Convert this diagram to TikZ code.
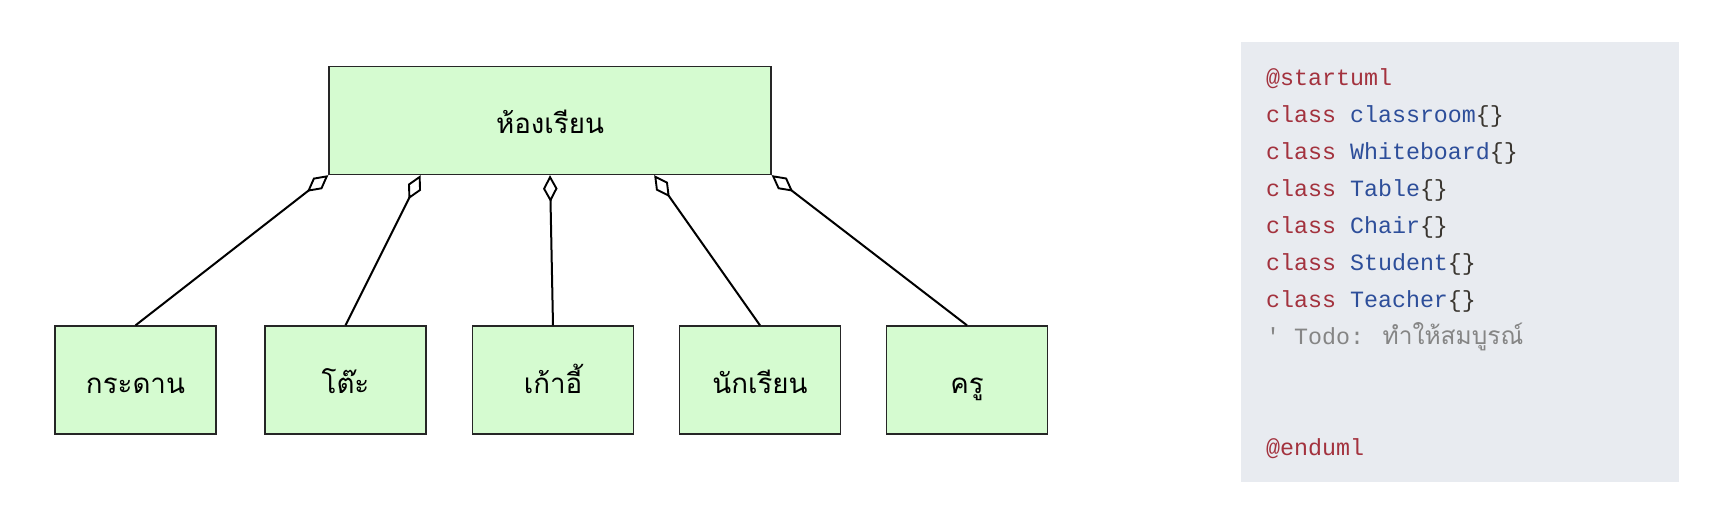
\documentclass[tikz,border=0pt]{standalone}
\usepackage{fontspec}
\setmainfont{Liberation Sans}
\newfontfamily\thai[Script=Thai]{Loma}
\newfontfamily\codefont{Liberation Mono}
\usetikzlibrary{arrows.meta,calc}
\definecolor{boxfill}{HTML}{D5FBD0}
\definecolor{panel}{HTML}{E8EBF0}
\definecolor{kw}{HTML}{A3323E}
\definecolor{cls}{HTML}{2D4E9A}
\definecolor{brc}{HTML}{3A3630}
\definecolor{cmt}{HTML}{858585}
\tikzset{
  classbox/.style={draw=black!85, line width=1.3pt, fill=boxfill, inner sep=0pt,
    text height=26pt, text depth=0pt, font=\thai\fontsize{27.7}{32}\selectfont},
  agg/.style={line width=2pt, -{Diamond[open, length=27pt, width=14.5pt, line width=1.9pt]}},
  codeline/.style={anchor=base west, inner sep=0pt, font=\codefont\fontsize{23.3}{28}\selectfont},
}
\begin{document}
\begin{tikzpicture}[x=1pt, y=-1pt]
\useasboundingbox (0,0) rectangle (1714,514);
\fill[white] (0,0) rectangle (1714,514);
% parent
\node[classbox, minimum width=442pt, minimum height=108pt] (room) at (550,120.5) {ห้องเรียน};
% children
\node[classbox, minimum width=161pt, minimum height=108pt] (paper) at (135.5,380) {กระดาน};
\node[classbox, minimum width=161pt, minimum height=108pt] (table) at (345.5,380) {โต๊ะ};
\node[classbox, minimum width=161pt, minimum height=108pt] (chair) at (553,380) {เก้าอี้};
\node[classbox, minimum width=161pt, minimum height=108pt] (student) at (760,380) {นักเรียน};
\node[classbox, minimum width=161pt, minimum height=108pt] (teacher) at (967,380) {ครู};
% attach points
\coordinate (a1) at (room.south west);
\coordinate (a2) at ($(room.south west)!0.208!(room.south east)$);
\coordinate (a3) at (room.south);
\coordinate (a4) at ($(room.south west)!0.735!(room.south east)$);
\coordinate (a5) at (room.south east);
\draw[agg] (paper.north) -- (a1);
\draw[agg] (table.north) -- (a2);
\draw[agg] (chair.north) -- (a3);
\draw[agg] (student.north) -- (a4);
\draw[agg] (teacher.north) -- (a5);
% code panel
\fill[panel] (1241,42) rectangle (1679,482);
\node[codeline] (l1) at (1266,85) {\textcolor{kw}{@startuml}};
\node[codeline] (l2) at (1266,122) {\textcolor{kw}{class} \textcolor{cls}{classroom}\textcolor{brc}{\{\}}};
\node[codeline] (l3) at (1266,159) {\textcolor{kw}{class} \textcolor{cls}{Whiteboard}\textcolor{brc}{\{\}}};
\node[codeline] (l4) at (1266,196) {\textcolor{kw}{class} \textcolor{cls}{Table}\textcolor{brc}{\{\}}};
\node[codeline] (l5) at (1266,233) {\textcolor{kw}{class} \textcolor{cls}{Chair}\textcolor{brc}{\{\}}};
\node[codeline] (l6) at (1266,270) {\textcolor{kw}{class} \textcolor{cls}{Student}\textcolor{brc}{\{\}}};
\node[codeline] (l7) at (1266,307) {\textcolor{kw}{class} \textcolor{cls}{Teacher}\textcolor{brc}{\{\}}};
\node[codeline] (l8) at (1266,344) {\textcolor{cmt}{' Todo: {\thai\fontsize{24.5}{28}\selectfont ทำให้สมบูรณ์}}};
\node[codeline] (l9) at (1266,455) {\textcolor{kw}{@enduml}};
\end{tikzpicture}
\end{document}
